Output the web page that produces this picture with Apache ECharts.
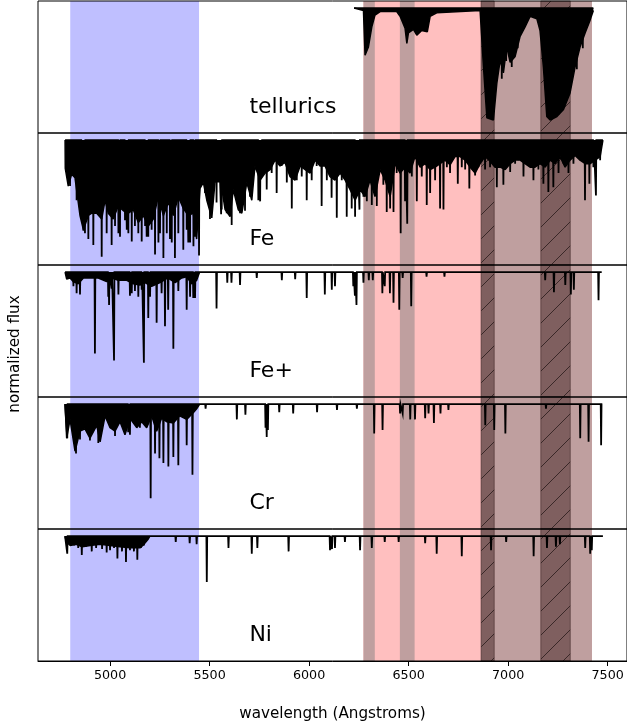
<!DOCTYPE html>
<html><head><meta charset="utf-8">
<script src="https://cdn.jsdelivr.net/npm/echarts@6/dist/echarts.min.js"></script>
<style>html,body{margin:0;padding:0;background:#fff}#c{width:627px;height:725px}</style>
</head><body><div id="c"></div><script>
// ---------------- data ----------------
const panelNames = ['tellurics', 'Fe', 'Fe+', 'Cr', 'Ni'];
const tickValues = [5000, 5500, 6000, 6500, 7000, 7500];
const xLabel = 'wavelength (Angstroms)';
const yLabel = 'normalized flux';

const blueSpan = [4800, 5447];
const redSpan = [6273, 7421];
const graySpans = [[6273, 6330], [6456, 6530], [6930, 7164], [7312, 7421]];
const hatchSpans = [[6864, 6930], [7164, 7312]];

// wavelength coverage of each spectrum
const telluricRange = [6226, 7428];
const feRange = [4774, 7476];
const fePlusRange = [4774, 7470];
const crRange = [4774, 7473];
const niRange = [4774, 7476];

// lower edge of the dense (solid) absorption band: [wavelength, flux]
const telluricEnvelope = [[6226,1.0],[6273,0.98],[6281,0.60],[6298,0.67],[6315,0.84],[6331,0.94],[6357,0.97],[6440,0.97],[6457,0.93],[6482,0.83],[6491,0.70],[6499,0.79],[6524,0.82],[6541,0.77],[6566,0.81],[6594,0.80],[6608,0.93],[6641,0.96],[6859,0.98],[6876,0.50],[6893,0.07],[6926,0.05],[6943,0.36],[6960,0.56],[6976,0.45],[6993,0.67],[7010,0.54],[7035,0.59],[7060,0.76],[7085,0.84],[7110,0.93],[7144,0.91],[7160,0.81],[7177,0.50],[7194,0.08],[7211,0.05],[7245,0.08],[7278,0.14],[7311,0.28],[7336,0.50],[7361,0.67],[7387,0.79],[7412,0.90],[7428,0.98]];
const feEnvelope = [[4774,1.0],[4775,0.76],[4790,0.61],[4807,0.71],[4824,0.68],[4849,0.36],[4866,0.24],[4891,0.36],[4908,0.38],[4933,0.38],[4958,0.33],[4975,0.49],[4991,0.38],[5016,0.33],[5041,0.44],[5067,0.40],[5092,0.38],[5117,0.41],[5142,0.30],[5167,0.36],[5192,0.27],[5217,0.33],[5242,0.52],[5268,0.36],[5293,0.47],[5318,0.36],[5343,0.52],[5368,0.42],[5393,0.36],[5418,0.38],[5435,0.16],[5452,0.59],[5469,0.64],[5486,0.49],[5511,0.34],[5527,0.64],[5552,0.69],[5578,0.41],[5603,0.35],[5619,0.58],[5644,0.41],[5662,0.38],[5687,0.64],[5712,0.49],[5728,0.78],[5754,0.66],[5779,0.72],[5804,0.75],[5829,0.83],[5854,0.78],[5879,0.81],[5904,0.69],[5929,0.66],[5955,0.78],[5980,0.75],[6005,0.72],[6030,0.83],[6055,0.78],[6080,0.78],[6105,0.69],[6130,0.66],[6156,0.72],[6181,0.66],[6206,0.58],[6231,0.49],[6256,0.58],[6281,0.52],[6306,0.66],[6331,0.52],[6357,0.75],[6382,0.66],[6407,0.52],[6432,0.80],[6457,0.72],[6482,0.77],[6507,0.72],[6532,0.86],[6558,0.77],[6583,0.80],[6608,0.75],[6633,0.77],[6658,0.80],[6683,0.83],[6708,0.79],[6733,0.86],[6759,0.86],[6784,0.83],[6809,0.77],[6834,0.72],[6859,0.80],[6884,0.86],[6909,0.82],[6934,0.77],[6960,0.77],[6985,0.75],[7010,0.80],[7035,0.83],[7060,0.83],[7085,0.80],[7110,0.77],[7135,0.77],[7160,0.80],[7186,0.77],[7211,0.83],[7236,0.80],[7261,0.86],[7286,0.77],[7311,0.83],[7336,0.87],[7361,0.83],[7387,0.80],[7412,0.80],[7437,0.83],[7462,0.86],[7476,1.0]];
const fePlusEnvelope = [[4774,1.0],[4782,0.94],[4799,0.95],[4815,0.92],[4840,0.90],[4866,0.95],[4891,0.95],[4941,0.95],[4983,0.92],[5010,0.95],[5041,0.93],[5084,0.93],[5117,0.90],[5150,0.89],[5175,0.91],[5209,0.88],[5251,0.91],[5290,0.95],[5327,0.91],[5360,0.95],[5385,0.96],[5410,0.90],[5435,0.93],[5450,1.0]];
const crEnvelope = [[4774,1.0],[4782,0.71],[4799,0.87],[4824,0.60],[4849,0.77],[4874,0.79],[4899,0.71],[4933,0.82],[4950,0.68],[4975,0.90],[5000,0.80],[5025,0.77],[5050,0.85],[5075,0.74],[5100,0.88],[5134,0.80],[5159,0.85],[5184,0.80],[5209,0.90],[5234,0.77],[5259,0.88],[5284,0.85],[5318,0.84],[5350,0.90],[5385,0.87],[5420,0.93],[5435,0.96],[5450,1.0]];
const niEnvelope = [[4774,1.0],[4780,0.95],[4800,0.92],[4830,0.93],[4860,0.91],[4900,0.92],[4950,0.93],[5000,0.92],[5050,0.91],[5100,0.90],[5150,0.90],[5170,0.93],[5190,0.97],[5200,1.0]];

// individual absorption lines: [wavelength, minimum flux]
const telluricLines = [[6968,0.40],[6990,0.55],[7018,0.50],[7048,0.66],[7255,0.10],[7300,0.25],[7345,0.48],[7375,0.66]];
const feLines = [[4799,0.61],[4832,0.49],[4857,0.35],[4866,0.23],[4874,0.21],[4891,0.16],[4916,0.11],[4933,0.38],[4958,0.01],[4983,0.21],[5008,0.11],[5025,0.27],[5042,0.21],[5050,0.18],[5075,0.32],[5084,0.24],[5092,0.21],[5109,0.14],[5125,0.27],[5142,0.21],[5159,0.14],[5176,0.27],[5184,0.18],[5192,0.18],[5209,0.24],[5226,0.03],[5243,0.13],[5251,0.21],[5268,0.0],[5285,0.21],[5301,0.16],[5310,0.13],[5326,0.0],[5343,0.21],[5368,0.07],[5385,0.24],[5393,0.13],[5402,0.13],[5419,0.10],[5427,0.18],[5447,0.02],[5477,0.55],[5502,0.33],[5535,0.47],[5544,0.64],[5558,0.37],[5561,0.41],[5586,0.38],[5611,0.28],[5628,0.55],[5653,0.38],[5678,0.40],[5703,0.52],[5745,0.49],[5754,0.48],[5762,0.78],[5787,0.58],[5812,0.72],[5837,0.55],[5862,0.78],[5888,0.64],[5913,0.42],[5938,0.66],[5963,0.69],[5988,0.49],[6013,0.66],[6038,0.78],[6063,0.44],[6089,0.66],[6113,0.51],[6139,0.34],[6164,0.66],[6189,0.35],[6214,0.42],[6231,0.35],[6239,0.66],[6253,0.41],[6273,0.52],[6290,0.48],[6315,0.45],[6340,0.44],[6373,0.62],[6390,0.39],[6407,0.42],[6424,0.39],[6440,0.72],[6460,0.21],[6482,0.48],[6493,0.29],[6516,0.69],[6541,0.48],[6566,0.69],[6591,0.45],[6608,0.55],[6633,0.66],[6658,0.42],[6675,0.41],[6692,0.77],[6708,0.72],[6747,0.63],[6767,0.77],[6784,0.75],[6805,0.59],[6834,0.70],[6851,0.77],[6867,0.82],[6884,0.75],[6909,0.77],[6943,0.60],[6976,0.62],[7010,0.73],[7035,0.80],[7052,0.83],[7077,0.69],[7102,0.80],[7127,0.66],[7152,0.75],[7177,0.63],[7202,0.56],[7227,0.60],[7253,0.72],[7278,0.80],[7303,0.72],[7328,0.80],[7362,0.83],[7386,0.49],[7408,0.63],[7428,0.77],[7441,0.53],[7462,0.83]];
const fePlusLines = [[4816,0.88],[4832,0.82],[4849,0.81],[4924,0.31],[4991,0.79],[4995,0.72],[5008,0.86],[5020,0.25],[5042,0.81],[5100,0.80],[5109,0.82],[5125,0.84],[5142,0.79],[5159,0.85],[5170,0.23],[5192,0.61],[5201,0.79],[5234,0.57],[5259,0.82],[5276,0.54],[5292,0.68],[5318,0.35],[5343,0.84],[5385,0.68],[5402,0.79],[5418,0.78],[5427,0.78],[5535,0.69],[5589,0.91],[5610,0.91],[5653,0.89],[5737,0.95],[5863,0.93],[5930,0.94],[5988,0.78],[6079,0.81],[6114,0.85],[6130,0.88],[6222,0.88],[6230,0.80],[6238,0.72],[6273,0.91],[6300,0.93],[6320,0.93],[6368,0.82],[6380,0.88],[6406,0.82],[6424,0.74],[6453,0.68],[6470,0.95],[6513,0.71],[6590,0.96],[6680,0.96],[7186,0.93],[7230,0.83],[7287,0.89],[7315,0.81],[7330,0.85],[7454,0.76]];
const crLines = [[4785,0.71],[4829,0.58],[4849,0.70],[4899,0.69],[4941,0.67],[5025,0.73],[5091,0.76],[5100,0.74],[5150,0.80],[5204,0.20],[5226,0.58],[5248,0.54],[5268,0.50],[5293,0.47],[5318,0.55],[5343,0.48],[5385,0.65],[5414,0.40],[5480,0.96],[5637,0.87],[5680,0.91],[5781,0.80],[5787,0.72],[5793,0.78],[5850,0.93],[5920,0.92],[6040,0.93],[6140,0.95],[6240,0.96],[6327,0.75],[6369,0.78],[6457,0.92],[6470,0.92],[6508,0.87],[6532,0.87],[6583,0.88],[6600,0.92],[6627,0.84],[6660,0.92],[6700,0.95],[6885,0.82],[6930,0.78],[6986,0.75],[7190,0.96],[7362,0.71],[7404,0.68],[7467,0.65]];
const niLines = [[4785,0.85],[4820,0.92],[4840,0.90],[4858,0.84],[4880,0.91],[4908,0.87],[4930,0.90],[4960,0.89],[4983,0.86],[5000,0.88],[5020,0.90],[5037,0.81],[5060,0.87],[5080,0.78],[5100,0.88],[5120,0.87],[5137,0.80],[5155,0.90],[5170,0.92],[5330,0.95],[5400,0.94],[5435,0.93],[5486,0.61],[5595,0.90],[5712,0.85],[5740,0.90],[5897,0.87],[6105,0.88],[6115,0.89],[6130,0.90],[6180,0.95],[6256,0.88],[6315,0.90],[6380,0.95],[6450,0.95],[6583,0.94],[6641,0.85],[6767,0.83],[6914,0.88],[6990,0.95],[7128,0.83],[7195,0.90],[7240,0.91],[7260,0.93],[7387,0.90],[7412,0.85],[7420,0.88]];

// ---------------- layout / style ----------------
const X_MIN = 4638, X_MAX = 7597;
const Y_MIN = -0.06, Y_MAX = 1.06;
const FONT = 'DejaVu Sans';
const GRID_LEFT = 38, GRID_TOP = 1, PANEL_H = 132, GRID_W = 589;

const panels = [
  {env: telluricEnvelope, lines: telluricLines, range: telluricRange},
  {env: feEnvelope, lines: feLines, range: feRange},
  {env: fePlusEnvelope, lines: fePlusLines, range: fePlusRange},
  {env: crEnvelope, lines: crLines, range: crRange},
  {env: niEnvelope, lines: niLines, range: niRange}
];

function makeHatch(bg, lineColor, size) {
  const c = document.createElement('canvas');
  c.width = size; c.height = size;
  const g = c.getContext('2d');
  g.fillStyle = bg; g.fillRect(0, 0, size, size);
  g.strokeStyle = lineColor; g.lineWidth = 1;
  g.beginPath();
  g.moveTo(-1, size + 1); g.lineTo(size + 1, -1);
  g.moveTo(-1, 1); g.lineTo(1, -1);
  g.moveTo(size - 1, size + 1); g.lineTo(size + 1, size - 1);
  g.stroke();
  return c;
}
const hatchCanvas = makeHatch('#7f5f5f', '#3a2828', 24);

function spectrum(range, lines, w) {
  const pts = [[range[0], 1]];
  lines.slice().sort((a, b) => a[0] - b[0]).forEach(([x, f]) => {
    pts.push([x - w, 1], [x, f], [x + w, 1]);
  });
  pts.push([range[1], 1]);
  return pts;
}

const spanData = [[blueSpan[0], blueSpan[1], 0], [redSpan[0], redSpan[1], 1]]
  .concat(graySpans.map(s => [s[0], s[1], 2]))
  .concat(hatchSpans.map(s => [s[0], s[1], 3]));
const spanFill = ['#bfbfff', '#ffbfbf', '#bf9f9f', {image: hatchCanvas, repeat: 'repeat'}];

const grids = [], xAxes = [], yAxes = [], series = [];
panels.forEach((p, i) => {
  const bottom = i === panels.length - 1;
  grids.push({left: GRID_LEFT, top: GRID_TOP + i * PANEL_H, width: GRID_W, height: PANEL_H,
    show: true, borderColor: '#000', borderWidth: 1, backgroundColor: 'transparent', z: 10});
  xAxes.push({type: 'value', gridIndex: i, min: X_MIN, max: X_MAX,
    splitLine: {show: false},
    axisLine: {show: bottom, onZero: false, lineStyle: {color: '#000', width: 1}},
    axisTick: {show: bottom, customValues: tickValues, length: 5, lineStyle: {color: '#000'}},
    axisLabel: {show: bottom, customValues: tickValues, formatter: v => String(v), color: '#000',
      fontFamily: FONT, fontSize: 12.7, margin: 8},
    name: bottom ? xLabel : '', nameLocation: 'middle', nameGap: 46,
    nameTextStyle: {color: '#000', fontFamily: FONT, fontSize: 15.2},
    z: 10
  });
  yAxes.push({type: 'value', gridIndex: i, min: Y_MIN, max: Y_MAX, show: false});

  series.push({type: 'custom', xAxisIndex: i, yAxisIndex: i, z: 1, silent: true,
    data: spanData, encode: {x: [0, 1]},
    renderItem: (params, api) => {
      const cs = params.coordSys;
      const x0 = api.coord([api.value(0), 0])[0];
      const x1 = api.coord([api.value(1), 0])[0];
      const t = api.value(2);
      return {type: 'rect', shape: {x: x0, y: cs.y, width: x1 - x0, height: cs.height},
        style: {fill: spanFill[t], stroke: t === 3 ? 'rgba(60,40,40,0.6)' : null, lineWidth: 1}};
    }});
  series.push({type: 'line', xAxisIndex: i, yAxisIndex: i, z: 3, data: p.env,
    showSymbol: false, symbol: 'none', silent: true, animation: false,
    lineStyle: {color: '#000', width: 1.5}, areaStyle: {origin: 1, color: '#000', opacity: 1}});
  series.push({type: 'line', xAxisIndex: i, yAxisIndex: i, z: 4,
    data: spectrum(p.range, p.lines, 2), showSymbol: false, symbol: 'none', silent: true,
    animation: false, lineStyle: {color: '#000', width: 1.8, join: 'miter'}});
  series.push({type: 'custom', xAxisIndex: i, yAxisIndex: i, z: 5, silent: true,
    data: [[5700, 0.16]],
    renderItem: (params, api) => {
      const pt = api.coord([api.value(0), api.value(1)]);
      return {type: 'text', x: pt[0], y: pt[1],
        style: {text: panelNames[i], fill: '#000', font: '22px "DejaVu Sans"',
          align: 'left', verticalAlign: 'middle'}};
    }});
});

const chart = echarts.init(document.getElementById('c'), null, {renderer: 'canvas'});
chart.setOption({
  animation: false,
  backgroundColor: '#fff',
  grid: grids, xAxis: xAxes, yAxis: yAxes, series: series,
  graphic: [{type: 'text', x: 15, y: 354, rotation: Math.PI / 2,
    style: {text: yLabel, fill: '#000', font: '15.2px "DejaVu Sans"', align: 'center', verticalAlign: 'middle'}}]
});
</script></body></html>
